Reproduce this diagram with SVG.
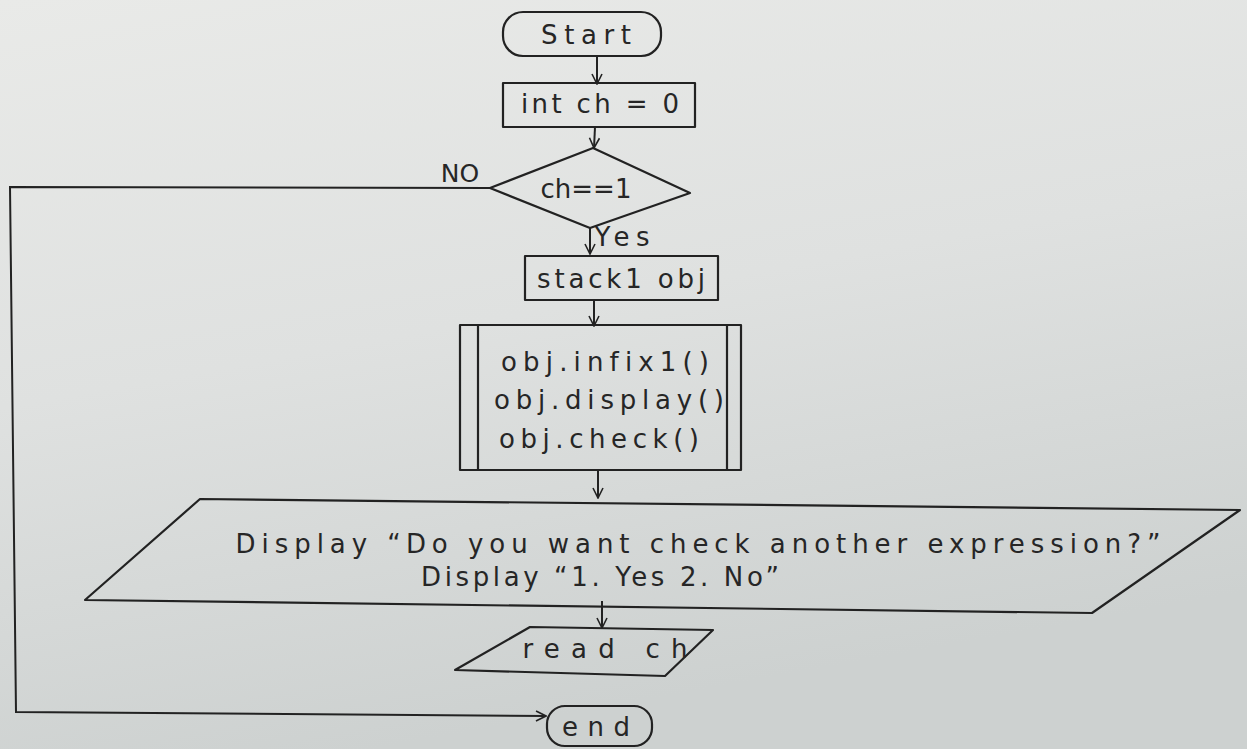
<svg xmlns="http://www.w3.org/2000/svg" width="1247" height="749" viewBox="0 0 1247 749">
<defs>
<linearGradient id="paper" x1="0" y1="0" x2="0.3" y2="1">
<stop offset="0" stop-color="#e9eae8"/>
<stop offset="0.5" stop-color="#dfe1e0"/>
<stop offset="1" stop-color="#cdd1d0"/>
</linearGradient>
<marker id="arr" viewBox="0 0 12 12" refX="11" refY="6" markerWidth="12" markerHeight="12" markerUnits="userSpaceOnUse" orient="auto">
<path d="M1,1 L11,6 L1,11" fill="none" stroke="#222" stroke-width="1.6"/>
</marker>
<style>
.s{fill:none;stroke:#222;stroke-width:2.2;stroke-linejoin:round}
.c{fill:none;stroke:#222;stroke-width:2;marker-end:url(#arr)}
.t{font-family:"DejaVu Sans","Liberation Sans",sans-serif;font-size:26px;fill:#262626;text-anchor:middle;dominant-baseline:middle;font-variant-ligatures:none}
</style>
</defs>
<rect x="0" y="0" width="1247" height="749" fill="url(#paper)"/>
<g id="connectors">
<line class="c" x1="597" y1="56" x2="597" y2="84"/>
<line class="c" x1="595" y1="127" x2="594" y2="148"/>
<path class="c" d="M490,188 L10,187 L16,712 L546,716"/>
<line class="c" x1="590" y1="228" x2="590" y2="254"/>
<line class="c" x1="594" y1="300" x2="594" y2="326"/>
<line class="c" x1="598" y1="470" x2="598" y2="498"/>
<line class="c" x1="602" y1="601" x2="602" y2="628"/>
<text class="t" x="460" y="175" style="font-size:25px">NO</text>
<text class="t" x="622" y="238" textLength="55" lengthAdjust="spacing">Yes</text>
</g>
<g id="start">
<rect class="s" x="503" y="12" width="158" height="44" rx="20"/>
<text class="t" x="586" y="36" textLength="90" lengthAdjust="spacing">Start</text>
</g>
<g id="init">
<rect class="s" x="503" y="83" width="192" height="44"/>
<text class="t" x="600" y="105" textLength="158" lengthAdjust="spacing">int ch = 0</text>
</g>
<g id="decision">
<polygon class="s" points="593,148 690,193 590,228 490,188"/>
<text class="t" x="586" y="190">ch==1</text>
</g>
<g id="declare">
<rect class="s" x="525" y="256" width="193" height="44"/>
<text class="t" x="621" y="280" textLength="168" lengthAdjust="spacing">stack1 obj</text>
</g>
<g id="process">
<rect class="s" x="460" y="325" width="281" height="145"/>
<line class="s" x1="478" y1="325" x2="478" y2="470"/>
<line class="s" x1="727" y1="325" x2="727" y2="470"/>
<text class="t" x="605" y="363" textLength="208" lengthAdjust="spacing">obj.infix1()</text>
<text class="t" x="609" y="401" textLength="230" lengthAdjust="spacing">obj.display()</text>
<text class="t" x="599" y="440" textLength="200" lengthAdjust="spacing">obj.check()</text>
</g>
<g id="output">
<polygon class="s" points="200,499 1240,510 1092,613 85,600"/>
<text class="t" x="698" y="545" textLength="925" lengthAdjust="spacing">Display “Do you want check another expression?”</text>
<text class="t" x="600" y="578" textLength="358" lengthAdjust="spacing">Display “1. Yes 2. No”</text>
</g>
<g id="input">
<polygon class="s" points="530,627 713,630 665,676 455,670"/>
<text class="t" x="605" y="650" textLength="165" lengthAdjust="spacing">read ch</text>
</g>
<g id="end">
<rect class="s" x="547" y="706" width="105" height="40" rx="18"/>
<text class="t" x="596" y="728" textLength="68" lengthAdjust="spacing">end</text>
</g>
</svg>
